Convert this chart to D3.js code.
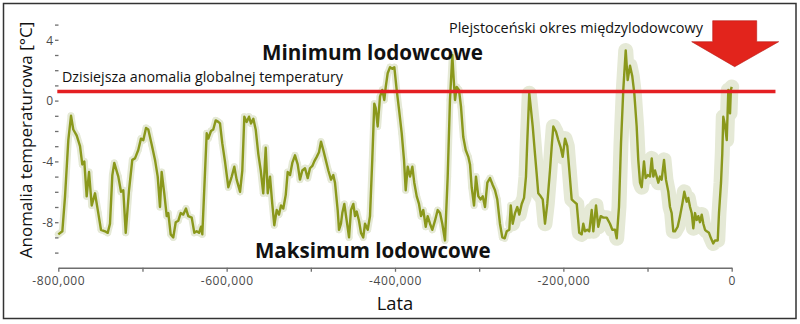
<!DOCTYPE html>
<html><head><meta charset="utf-8">
<script src="https://cdn.jsdelivr.net/npm/d3@7"></script>
<style>
html,body{margin:0;padding:0;background:#fff;}
svg{display:block;font-family:"Open Sans",sans-serif;}
</style></head>
<body>
<svg id="chart" width="800" height="324"></svg>
<script>
// ---- data (age in thousands of years, temperature anomaly in °C) ----
const ageKyr = [
-800,-795.2,-792,-788.1,-784.9,-782.2,-778.1,-774.2,-771.5,-769.1,
-766.3,-763.5,-760.3,-756.4,-752.5,-749.3,-744.5,-741.3,-738.6,-735.8,
-733.5,-728.7,-725.5,-722.8,-719.9,-716,-712.1,-708.9,-705,-701.8,
-699,-695.8,-693.1,-689,-685.1,-681.9,-679.2,-677.2,-674.1,-671.2,
-669.3,-666.5,-663.4,-660.5,-657.4,-654.6,-651.5,-648.3,-645.6,-641.5,
-638.4,-635.6,-632.8,-630.5,-628.9,-623.7,-621.8,-618.6,-615.9,-613,
-609.9,-607.9,-605.2,-602,-598,-594,-590.9,-588.1,-584.1,-581.4,
-579,-576.2,-573.4,-571.1,-568.3,-565.5,-562.4,-559.5,-556.5,-553.6,
-551.2,-548.5,-545.8,-543.4,-540.5,-537.8,-535.4,-532.7,-529.8,-527.5,
-524.7,-522,-518.8,-515.6,-512.9,-510.1,-506.9,-503.7,-501,-498.2,
-495.9,-493,-490.3,-487.9,-485.2,-482.3,-479.2,-476,-473.3,-471.3,
-468.1,-466.5,-464.2,-462.6,-460.2,-457.4,-454.6,-452.3,-449.5,-447.5,
-445.5,-442.8,-440.4,-437.7,-435.6,-432.4,-429.7,-427,-424.6,-422.9,
-420.6,-417.8,-415.1,-412.7,-411,-408.7,-405.9,-403.2,-400.8,-398,
-395.2,-392,-389.3,-387.3,-384.9,-382.2,-379.4,-377.1,-374.2,-371.5,
-369.1,-366.4,-363.5,-361.2,-358.4,-355.7,-352.5,-349.3,-346.5,-343.8,
-340.6,-337.4,-334.7,-331.9,-330.7,-328.7,-326.7,-324,-321.6,-318.9,
-316,-312.9,-310.9,-308.9,-306.1,-303.8,-301,-298.2,-295.8,-293.1,
-290.3,-287.1,-283.9,-281.2,-278.5,-275.3,-272.5,-269.7,-267.3,-264.2,
-262.5,-260.2,-257.4,-254.7,-252.3,-249.5,-246.7,-244.4,-242.8,-240.5,
-238.8,-236.4,-233.7,-231.7,-229.8,-226.9,-224.5,-221.8,-219.1,-215.9,
-213.8,-211.9,-208.7,-206,-203.1,-200.8,-198,-195.3,-192.9,-190.1,
-187.3,-184.1,-181.1,-178.2,-176.3,-174.3,-171.5,-169.2,-166.3,-164.4,
-161.2,-158.5,-155.6,-152.5,-148.5,-144.6,-141.8,-138.6,-136.6,-133.9,
-131.5,-128.8,-125.9,-123.6,-120.8,-118.1,-115.7,-112.9,-111,-108.9,
-106.9,-104.2,-102.2,-99.8,-97.1,-95,-93.1,-91.1,-89.1,-87.2,
-85.2,-83.2,-80.4,-78.1,-75.3,-73.3,-71.3,-69.4,-67.4,-64.2,
-61.4,-58.7,-56.3,-53.5,-51.6,-49.5,-47.5,-45.6,-43.6,-41.6,
-39.7,-37.7,-35.6,-33.7,-31.7,-29.7,-27,-24.6,-21.9,-19.8,
-16.6,-15.1,-12.7,-11.2,-10,-8,-5.9,-4,-2,-1,
0];
const tempAnomaly = [
-8.8,-8.6,-6.3,-2.6,-1.0,-1.9,-2.3,-3.0,-4.2,-4.0,
-6.3,-4.7,-6.9,-6.1,-7.4,-8.5,-8.6,-8.7,-8.1,-4.9,
-4.1,-5.0,-6.0,-5.9,-8.7,-5.9,-3.9,-3.8,-3.25,-2.5,
-2.6,-1.8,-1.9,-2.9,-3.9,-5.0,-7.0,-4.7,-6.1,-7.6,
-7.4,-8.8,-9.0,-8.0,-7.9,-7.4,-7.5,-7.1,-7.6,-7.7,
-8.7,-8.6,-8.7,-8.3,-8.8,-2.15,-2.5,-2.0,-1.9,-1.3,
-1.4,-1.5,-2.8,-4.0,-5.7,-5.0,-4.35,-5.2,-6.0,-4.6,
-1.06,-1.4,-1.06,-1.5,-1.2,-1.9,-3.5,-4.6,-6.1,-3.1,
-6.1,-5.0,-6.8,-8.2,-7.2,-7.5,-6.9,-7.1,-6.2,-4.7,
-4.9,-4.1,-3.6,-4.2,-5.2,-4.6,-4.45,-5.1,-4.45,-4.3,
-4.0,-3.7,-3.4,-2.7,-3.25,-3.9,-4.6,-5.2,-4.9,-5.4,
-7.2,-8.5,-8.1,-7.4,-6.8,-7.9,-9.0,-7.2,-6.8,-7.6,
-7.3,-7.9,-8.7,-9.0,-8.1,-8.5,-7.6,-3.9,-0.2,-0.5,
-1.7,0.26,0.7,0.04,0.9,1.8,2.2,2.1,2.2,0.7,
-0.6,-2.15,-3.9,-5.9,-4.35,-5.0,-4.35,-5.4,-6.3,-6.8,
-7.6,-7.2,-8.3,-7.6,-8.1,-8.5,-7.9,-7.2,-7.4,-8.1,
-9.2,-5.0,0.04,3.0,1.8,0.04,0.9,0.7,-0.4,-2.4,
-3.25,-3.7,-4.2,-5.7,-6.9,-5.0,-6.3,-6.5,-6.3,-7.0,
-5.4,-5.1,-5.55,-5.9,-6.5,-8.1,-9.0,-9.06,-8.6,-8.5,
-6.9,-8.1,-7.4,-7.0,-7.5,-6.8,-6.4,-5.0,-2.6,0.48,
-0.4,-1.7,-3.5,-4.8,-6.1,-6.3,-6.5,-8.1,-6.8,-4.6,
-3.0,-1.7,-2.05,-2.6,-3.1,-3.7,-2.5,-3.0,-4.6,-6.5,
-6.65,-6.8,-8.7,-8.8,-8.1,-8.6,-8.5,-8.6,-7.2,-8.6,
-6.9,-8.3,-7.6,-7.7,-7.7,-8.1,-8.5,-8.5,-9.06,-7.0,
-2.8,0.7,3.3,1.35,2.3,1.6,0.48,-1.7,-3.9,-5.4,
-5.7,-4.0,-5.1,-4.9,-5.0,-3.8,-5.0,-4.6,-5.0,-5.4,
-5.0,-5.2,-3.9,-5.2,-6.0,-7.0,-7.4,-8.6,-8.6,-8.3,
-7.6,-6.8,-6.0,-6.65,-6.4,-7.0,-7.4,-8.4,-7.4,-7.85,
-7.6,-8.0,-7.5,-8.1,-8.5,-8.6,-8.7,-9.06,-9.4,-9.2,
-9.2,-7.4,-5.4,-3.5,-1.06,-1.6,-2.6,0.7,-0.84,0.7,
0.9];
const todayAnomaly = 0.6;
const todayLineSpan = [-800000, 52000];
const xTickValues = [-800000, -700000, -600000, -500000, -400000, -300000, -200000, -100000, 0];
const xTickLabelValues = [-800000, -600000, -400000, -200000, 0];
const xTickLabels = ["-800,000", "-600,000", "-400,000", "-200,000", "0"];
const yTickValues = [-10, -9, -8, -7, -6, -5, -4, -3, -2, -1, 0, 1, 2, 3, 4, 5];
const yTickLabelValues = [4, 0, -4, -8];
const yTickLabels = ["4", "0", "-4", "-8"];
const xTitle = "Lata";
const yTitle = "Anomalia temperaturowa [°C]";
const labelTodayLine = "Dzisiejsza anomalia globalnej temperatury";
const labelInterglacial = "Plejstoceński okres międzylodowcowy";
const labelMinimum = "Minimum lodowcowe";
const labelMaximum = "Maksimum lodowcowe";

const data = ageKyr.map((a, i) => ({ year: a * 1000, t: tempAnomaly[i] }));

// ---- drawing ----
const svg = d3.select("#chart");
const x = d3.scaleLinear().domain([-800000, 0]).range([58.3, 731.7]);
const y = d3.scaleLinear().domain([-11, 6]).range([267.8, 9.4]);

function fitWidth(sel, w) {
  const node = sel.node();
  const fs = parseFloat(sel.attr("font-size"));
  const len = node.getComputedTextLength();
  sel.attr("font-size", (fs * w / len).toFixed(2));
}

// frame
svg.append("rect").attr("x", 3.5).attr("y", 3.5).attr("width", 792.5).attr("height", 315)
  .attr("fill", "none").attr("stroke", "#333").attr("stroke-width", 1.5);

// raw-data halo (single pale tone so layers merge)
const haloColor = "#e5e9d6";
const line = d3.line().x(d => x(d.year)).y(d => y(d.t)).curve(d3.curveLinear);
const halo = svg.append("g");
halo.append("path").datum(data.filter(d => d.year >= -262000))
  .attr("d", line).attr("fill", "none").attr("stroke", haloColor)
  .attr("stroke-width", 15).attr("stroke-linejoin", "round").attr("stroke-linecap", "round");
halo.append("path").datum(data)
  .attr("d", line).attr("fill", "none").attr("stroke", haloColor)
  .attr("stroke-width", 7).attr("stroke-linejoin", "round").attr("stroke-linecap", "round");
halo.selectAll("circle").data(data).join("circle")
  .attr("cx", d => x(d.year)).attr("cy", d => y(d.t)).attr("r", 3.4)
  .attr("fill", haloColor);

// main series
svg.append("path").datum(data).attr("d", line)
  .attr("fill", "none").attr("stroke", "#8a981c").attr("stroke-width", 2.4)
  .attr("stroke-linejoin", "round");

// today's anomaly line
svg.append("line")
  .attr("x1", x(todayLineSpan[0]) - 1).attr("x2", x(todayLineSpan[1]))
  .attr("y1", y(todayAnomaly)).attr("y2", y(todayAnomaly))
  .attr("stroke", "#e41f22").attr("stroke-width", 3.4);

// x axis
const xAxis = d3.axisBottom(x).tickValues(xTickValues).tickSize(4).tickSizeOuter(0)
  .tickFormat(d => { const i = xTickLabelValues.indexOf(d); return i >= 0 ? xTickLabels[i] : ""; });
const gx = svg.append("g").attr("transform", `translate(0,${y(-11)})`).call(xAxis);
gx.select(".domain").attr("stroke", "#6e6e6e").attr("stroke-width", 1.6);
gx.selectAll(".tick line").attr("stroke", "#6e6e6e").attr("stroke-width", 1.3);
gx.selectAll(".tick text").attr("font-family", "Open Sans").attr("font-size", 12)
  .attr("fill", "#4a4a4a").attr("dy", 0).attr("y", 17).attr("letter-spacing", 0.6);

// y axis
const yAxis = d3.axisLeft(y).tickValues(yTickValues).tickSize(3.5).tickSizeOuter(0)
  .tickFormat(d => { const i = yTickLabelValues.indexOf(d); return i >= 0 ? yTickLabels[i] : ""; });
const gy = svg.append("g").attr("transform", "translate(58.5,0)").call(yAxis);
gy.select(".domain").remove();
gy.selectAll(".tick line").attr("stroke", "#6e6e6e").attr("stroke-width", 1.3);
gy.selectAll(".tick text").attr("font-family", "Open Sans").attr("font-size", 12)
  .attr("fill", "#4a4a4a").attr("x", -5.5).attr("dy", "0.36em");

// axis titles
const xt = svg.append("text").attr("x", 395).attr("y", 310).attr("text-anchor", "middle")
  .attr("font-size", 20).attr("fill", "#111").text(xTitle);
fitWidth(xt, 36.6);
const yt = svg.append("text").attr("transform", "translate(31.5,140) rotate(-90)")
  .attr("text-anchor", "middle").attr("font-size", 20).attr("fill", "#111").text(yTitle);
fitWidth(yt, 236.6);

// annotations
const tMin = svg.append("text").attr("x", 262).attr("y", 60).attr("font-weight", 700)
  .attr("font-size", 22).attr("fill", "#111").text(labelMinimum);
fitWidth(tMin, 221);
const tMax = svg.append("text").attr("x", 255).attr("y", 257.7).attr("font-weight", 700)
  .attr("font-size", 22).attr("fill", "#111").text(labelMaximum);
fitWidth(tMax, 235.7);
const tToday = svg.append("text").attr("x", 62).attr("y", 81.7)
  .attr("font-size", 14).attr("fill", "#111").text(labelTodayLine);
fitWidth(tToday, 281);
const tInter = svg.append("text").attr("x", 449).attr("y", 33.3)
  .attr("font-size", 14).attr("fill", "#111").text(labelInterglacial);
fitWidth(tInter, 254);

// arrow pointing at the present
const ax = x(0) + 3;
const arrowPts = [
  [ax - 22, 20.7], [ax + 22, 20.7], [ax + 22, 41.7], [ax + 44, 41.7],
  [ax, 66.7], [ax - 43, 41.7], [ax - 22, 41.7]
];
svg.append("polygon").attr("points", arrowPts.map(p => p.join(",")).join(" "))
  .attr("fill", "#e2241c").attr("stroke", "#b81a14").attr("stroke-width", 0.6);
</script>
</body></html>
